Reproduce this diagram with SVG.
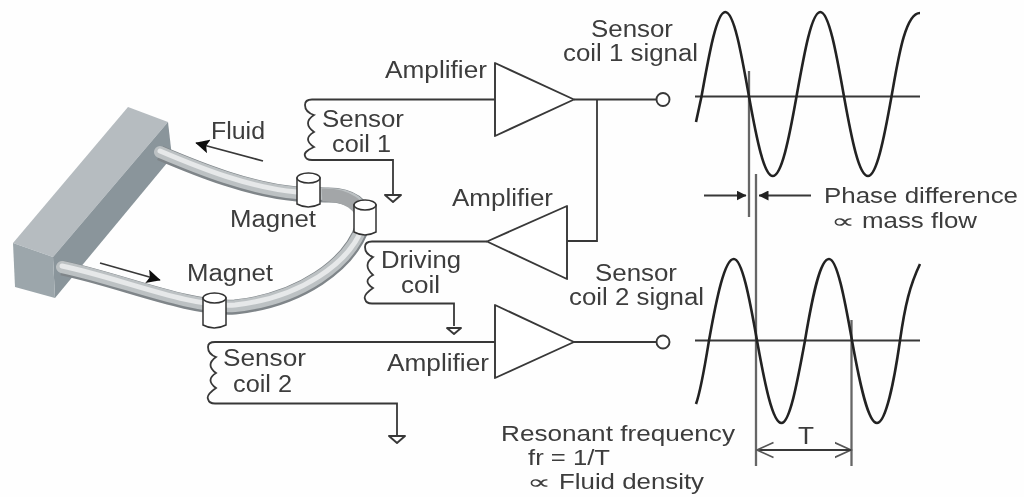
<svg xmlns="http://www.w3.org/2000/svg" width="1024" height="497" viewBox="0 0 1024 497">
<style>
text{font-family:"Liberation Sans",Arial,sans-serif;font-size:23.5px;fill:#3c3c3c}
.sm{font-size:21.5px}
.pr{font-family:"DejaVu Sans","Liberation Sans",sans-serif;font-size:20px}
.w{fill:none;stroke:#383838;stroke-width:1.8}
.g{fill:none;stroke:#666;stroke-width:2.3}
.s{fill:none;stroke:#222;stroke-width:2.6;stroke-linejoin:round}
.a{fill:#fff;stroke:#383838;stroke-width:1.9;stroke-linejoin:round}
.m{fill:#fff;stroke:#333;stroke-width:1.5}
.t0{fill:none;stroke:#7f8589;stroke-width:15}
.t1{fill:none;stroke:#bcc1c3;stroke-width:12;stroke-linecap:round}
.t2{fill:none;stroke:#e6e8e9;stroke-width:5;stroke-linecap:round}
</style>
<defs>
<filter id="soft" x="-2%" y="-2%" width="104%" height="104%"><feGaussianBlur stdDeviation="0.6"/></filter>
<marker id="solid" viewBox="0 0 10 10" refX="9.500" refY="5" markerWidth="10" markerHeight="10" markerUnits="userSpaceOnUse" orient="auto"><path d="M0,0L10,5L0,10Z" fill="#222"/></marker>
<marker id="big" viewBox="0 0 10 10" refX="9.500" refY="5" markerWidth="14" markerHeight="14" markerUnits="userSpaceOnUse" orient="auto"><path d="M0,0L10,5L0,10L2,5Z" fill="#111"/></marker>
<marker id="open" viewBox="0 0 12 12" refX="11" refY="6" markerWidth="18" markerHeight="18" markerUnits="userSpaceOnUse" orient="auto"><path d="M0,1L11,6L0,11" fill="none" stroke="#555" stroke-width="1.1"/></marker>
</defs>
<rect width="1024" height="497" fill="#fefefe"/>
<g filter="url(#soft)">
<g id="manifold">
<path d="M128,107L168,122L53,257L13,243Z" fill="#b6bcc0"/>
<path d="M168,122L172,157L55,298L53,257Z" fill="#8a959b"/>
<path d="M13,243L53,257L55,298L15,287Z" fill="#9ca6ab"/>
</g>
<g id="tube">
<path class="t0" d="M160,153C200,170 250,190 297,194L325,195C350,194 368,205 363,225C350,265 300,300 235,307C190,310 120,280 62,268"/>
<path class="t1" d="M160,153C200,170 250,190 297,194L325,195C350,194 368,205 363,225C350,265 300,300 235,307C190,310 120,280 62,268" transform="translate(0,-1)"/>
<path class="t2" d="M160,153C200,170 250,190 297,194M363,228C350,265 300,300 235,307C190,310 120,280 62,268" transform="translate(0,-2)"/>
<path d="M322,195C345,194 365,205 363,225" fill="none" stroke="#a3a6a8" stroke-width="13"/>
</g>
<g id="magnet-1"><path class="m" d="M297,178V204Q308,210 320,204V178Z"/><ellipse class="m" cx="308.500" cy="178" rx="11.500" ry="5"/></g>
<g id="magnet-2"><path class="m" d="M354,205V232Q365,238 376,232V205Z"/><ellipse class="m" cx="365" cy="205" rx="11" ry="5"/></g>
<g id="magnet-3"><path class="m" d="M203,298V325Q214,331 226,325V298Z"/><ellipse class="m" cx="214.500" cy="298" rx="11.500" ry="5"/></g>

<g id="connectors">
<path class="w" d="M263,161L196,143" marker-end="url(#big)"/>
<path class="w" d="M100,263L160,280" marker-end="url(#big)"/>
<path class="w" d="M495,99.500H312Q305,99.500 305,105Q305,112 314,115Q302,123 314,132Q302,139 314,147Q303,152 305,156Q306,160 312,160H393V195"/>
<path class="w" d="M574,99.500H656M597,99.500V241H567M487,241.500H372Q365,241.500 365,247Q365,254 373,257Q362,265 373,275Q362,281 373,288Q363,295 365,299Q366,303.500 372,303.500H454V326"/>
<path class="w" d="M495,342H215Q208,342 208,347Q208,354 216,357Q205,365 216,373Q205,380 216,388Q206,395 208,399Q209,403.500 215,403.500H397V435"/>
<path class="w" d="M574,342H656"/>
<path class="g" d="M749,71V217"/>
<path class="g" d="M756,174V466"/>
<path class="g" d="M851.500,320V466"/>
<path class="w" d="M704,195.500H746" marker-end="url(#solid)"/>
<path class="w" d="M811,195.500H759" marker-end="url(#solid)"/>
<path class="w" d="M757,450H851" marker-end="url(#open)"/>
<path class="w" d="M851,450H757" marker-end="url(#open)"/>
<path class="w" d="M695,96.500H920"/>
<path class="w" d="M695,340.500H920"/>
</g>

<g id="amplifier-1"><path class="a" d="M495,63L574,99.500L495,136Z"/></g>
<g id="amplifier-2"><path class="a" d="M567,206L487,241.500L567,279Z"/></g>
<g id="amplifier-3"><path class="a" d="M495,305L574,342L495,378Z"/></g>
<g id="terminal-1"><circle class="a" cx="663" cy="99.500" r="6.500"/></g>
<g id="terminal-2"><circle class="a" cx="663" cy="342" r="6.500"/></g>
<g id="ground-1"><path class="a" d="M385,195H401L393,202Z"/></g>
<g id="ground-2"><path class="a" d="M447,328H461L454,334Z"/></g>
<g id="ground-3"><path class="a" d="M389,436H405L397,443Z"/></g>

<g id="signal-1"><path class="s" d="M696,122L701.500,96.500C709.300,53 716.700,12 725.300,12C734,12 741.300,53 749,96.500C756.800,140 764.100,176 772.800,176C781.400,176 788.800,140 796.500,96.500C804.300,53 811.600,12 820.300,12C828.900,12 836.300,53 844,96.500C851.800,140 859.100,176 868,176C876.400,176 883.800,140 891.500,96.500C898,60 905,13 920,13"/></g>
<g id="signal-2"><path class="s" d="M696,404C701,390 705,365 709,340.500C716.800,297 724.700,259 733.800,259C742,259 749.300,297 757,340.500C764.800,384 772.600,423 781.500,423C789.600,423 797,384 805,340.500C812.300,297 819.900,259 829,259C837,259 844.300,297 852,340.500C859.800,384 868.100,423 877,423C885.400,423 893.800,384 900,340.500C905,305 910,285 920,264"/></g>

<g id="labels">
<text x="591" y="37" textLength="82" lengthAdjust="spacingAndGlyphs">Sensor</text>
<text x="563" y="61" textLength="135" lengthAdjust="spacingAndGlyphs">coil 1 signal</text>
<text x="385" y="78" textLength="102" lengthAdjust="spacingAndGlyphs">Amplifier</text>
<text x="322" y="127" textLength="82" lengthAdjust="spacingAndGlyphs">Sensor</text>
<text x="332" y="152" textLength="59" lengthAdjust="spacingAndGlyphs">coil 1</text>
<text x="211" y="139" textLength="54" lengthAdjust="spacingAndGlyphs">Fluid</text>
<text x="230" y="227" textLength="86" lengthAdjust="spacingAndGlyphs">Magnet</text>
<text x="187" y="281" textLength="86" lengthAdjust="spacingAndGlyphs">Magnet</text>
<text x="452" y="206" textLength="101" lengthAdjust="spacingAndGlyphs">Amplifier</text>
<text x="381" y="268" textLength="80" lengthAdjust="spacingAndGlyphs">Driving</text>
<text x="401" y="293" textLength="39" lengthAdjust="spacingAndGlyphs">coil</text>
<text x="595" y="281" textLength="82" lengthAdjust="spacingAndGlyphs">Sensor</text>
<text x="569" y="305" textLength="135" lengthAdjust="spacingAndGlyphs">coil 2 signal</text>
<text x="387" y="371" textLength="102" lengthAdjust="spacingAndGlyphs">Amplifier</text>
<text x="223" y="366" textLength="83" lengthAdjust="spacingAndGlyphs">Sensor</text>
<text x="233" y="392" textLength="59" lengthAdjust="spacingAndGlyphs">coil 2</text>
<text class="sm" x="824" y="202.500" textLength="194" lengthAdjust="spacingAndGlyphs">Phase difference</text>
<text class="sm" x="831" y="227.500"><tspan class="pr" textLength="24" lengthAdjust="spacingAndGlyphs">∝</tspan><tspan x="862" textLength="115" lengthAdjust="spacingAndGlyphs">mass flow</tspan></text>
<text class="sm" x="501" y="440.800" textLength="234" lengthAdjust="spacingAndGlyphs">Resonant frequency</text>
<text class="sm" x="528" y="465" textLength="82" lengthAdjust="spacingAndGlyphs">fr = 1/T</text>
<text class="sm" x="527" y="489"><tspan class="pr" textLength="24" lengthAdjust="spacingAndGlyphs">∝</tspan><tspan x="559" textLength="145" lengthAdjust="spacingAndGlyphs">Fluid density</tspan></text>
<text x="798" y="444" textLength="16" lengthAdjust="spacingAndGlyphs">T</text>
</g>
</g>
</svg>
